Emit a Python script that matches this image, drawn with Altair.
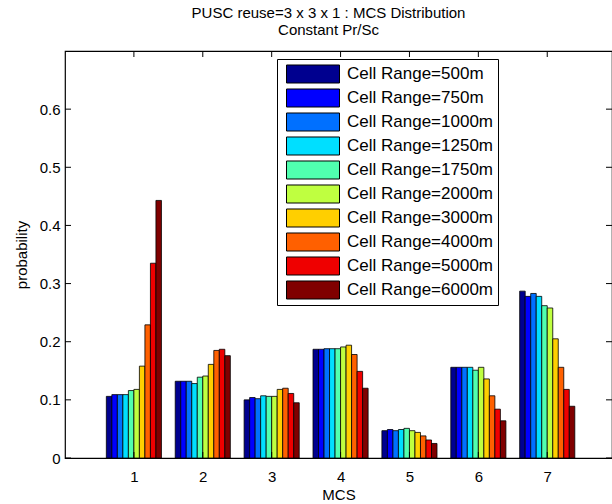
import altair as alt
import pandas as pd

mcs = [1, 2, 3, 4, 5, 6, 7]
ranges = ["Cell Range=500m", "Cell Range=750m", "Cell Range=1000m", "Cell Range=1250m",
          "Cell Range=1750m", "Cell Range=2000m", "Cell Range=3000m", "Cell Range=4000m",
          "Cell Range=5000m", "Cell Range=6000m"]
r500 = [0.106, 0.132, 0.100, 0.187, 0.047, 0.156, 0.287]
r750 = [0.109, 0.132, 0.104, 0.187, 0.049, 0.156, 0.278]
r1000 = [0.109, 0.132, 0.102, 0.188, 0.047, 0.156, 0.283]
r1250 = [0.109, 0.128, 0.107, 0.188, 0.049, 0.156, 0.278]
r1750 = [0.116, 0.139, 0.106, 0.188, 0.051, 0.151, 0.262]
r2000 = [0.118, 0.141, 0.106, 0.191, 0.047, 0.156, 0.258]
r3000 = [0.158, 0.161, 0.118, 0.194, 0.044, 0.136, 0.205]
r4000 = [0.229, 0.185, 0.120, 0.178, 0.038, 0.107, 0.156]
r5000 = [0.335, 0.187, 0.111, 0.149, 0.031, 0.084, 0.118]
r6000 = [0.443, 0.176, 0.095, 0.120, 0.025, 0.064, 0.089]
colors = ["#00008F", "#0000FF", "#0070FF", "#00DFFF", "#50FFAF",
          "#BFFF40", "#FFCF00", "#FF6000", "#EF0000", "#800000"]
y_ticks = [0, 0.1, 0.2, 0.3, 0.4, 0.5, 0.6]

series = [r500, r750, r1000, r1250, r1750, r2000, r3000, r4000, r5000, r6000]
SLOT = 0.08
rows = []
for i, (lab, vals) in enumerate(zip(ranges, series)):
    for m, v in zip(mcs, vals):
        c = m + (i - 4.5) * SLOT
        rows.append({"mcs": m, "range": lab, "p": v, "x0": c - SLOT / 2, "x1": c + SLOT / 2})
df = pd.DataFrame(rows)

W, H = 547, 407
FONT = "Liberation Sans"
FS = 15

xscale = alt.Scale(domain=[0, 7.94], nice=False, zero=False)
yscale = alt.Scale(domain=[0, 0.7], nice=False)

bars = alt.Chart(df).mark_rect(stroke="black", strokeWidth=0.8).encode(
    x=alt.X("x0:Q", scale=xscale,
            axis=alt.Axis(values=mcs, title="MCS", format="d", ticks=False, domain=False,
                          grid=False, labelFontSize=FS, titleFontSize=FS, labelFont=FONT,
                          titleFont=FONT, titleFontWeight="normal", labelPadding=11,
                          titlePadding=3, labelColor="black", titleColor="black")),
    x2="x1:Q",
    y=alt.Y("p:Q", scale=yscale,
            axis=alt.Axis(values=y_ticks, title="probability", format="~g", ticks=False,
                          domain=False, grid=False, labelFontSize=FS, titleFontSize=FS,
                          labelFont=FONT, titleFont=FONT, titleFontWeight="normal",
                          labelPadding=5, titlePadding=10, labelColor="black",
                          titleColor="black")),
    y2=alt.datum(0),
    color=alt.Color("range:N", scale=alt.Scale(domain=ranges, range=colors),
                    legend=alt.Legend(title=None, orient="none", legendX=212, legendY=8,
                                      symbolType="M-1,-0.34H1V0.34H-1Z", symbolSize=2809,
                                      symbolStrokeColor="black", symbolStrokeWidth=1,
                                      symbolOpacity=1, labelFontSize=17, labelFont=FONT,
                                      labelColor="black", labelOffset=7, clipHeight=22,
                                      rowPadding=2, padding=4, symbolOffset=5,
                                      strokeColor="black", fillColor="white",
                                      labelLimit=300)),
)

ydf = pd.DataFrame({"v": y_ticks})
xdf = pd.DataFrame({"m": mcs})
yl = alt.Chart(ydf).mark_rule(color="black", strokeWidth=1).encode(
    y=alt.Y("v:Q", scale=yscale), x=alt.value(0), x2=alt.value(6))
yr = alt.Chart(ydf).mark_rule(color="black", strokeWidth=1).encode(
    y=alt.Y("v:Q", scale=yscale), x=alt.value(W - 6), x2=alt.value(W))
xt = alt.Chart(xdf).mark_rule(color="black", strokeWidth=1).encode(
    x=alt.X("m:Q", scale=xscale), y=alt.value(0), y2=alt.value(6))
xb = alt.Chart(xdf).mark_rule(color="black", strokeWidth=1).encode(
    x=alt.X("m:Q", scale=xscale), y=alt.value(H - 6), y2=alt.value(H))

chart = alt.layer(bars, yl, yr, xt, xb).properties(
    width=W, height=H,
    title=alt.TitleParams(["PUSC reuse=3 x 3 x 1 : MCS Distribution", "Constant Pr/Sc"],
                          fontSize=FS, font=FONT, fontWeight="normal", color="black",
                          offset=13, lineHeight=17, dx=-10, anchor="middle"),
    autosize=alt.AutoSizeParams(type="none"),
    padding={"left": 65, "top": 51, "right": 0, "bottom": 46},
    background="white",
).configure_view(stroke="black", strokeWidth=1.2)

chart.save("out.html", embed_options={"renderer": "svg", "actions": False})
